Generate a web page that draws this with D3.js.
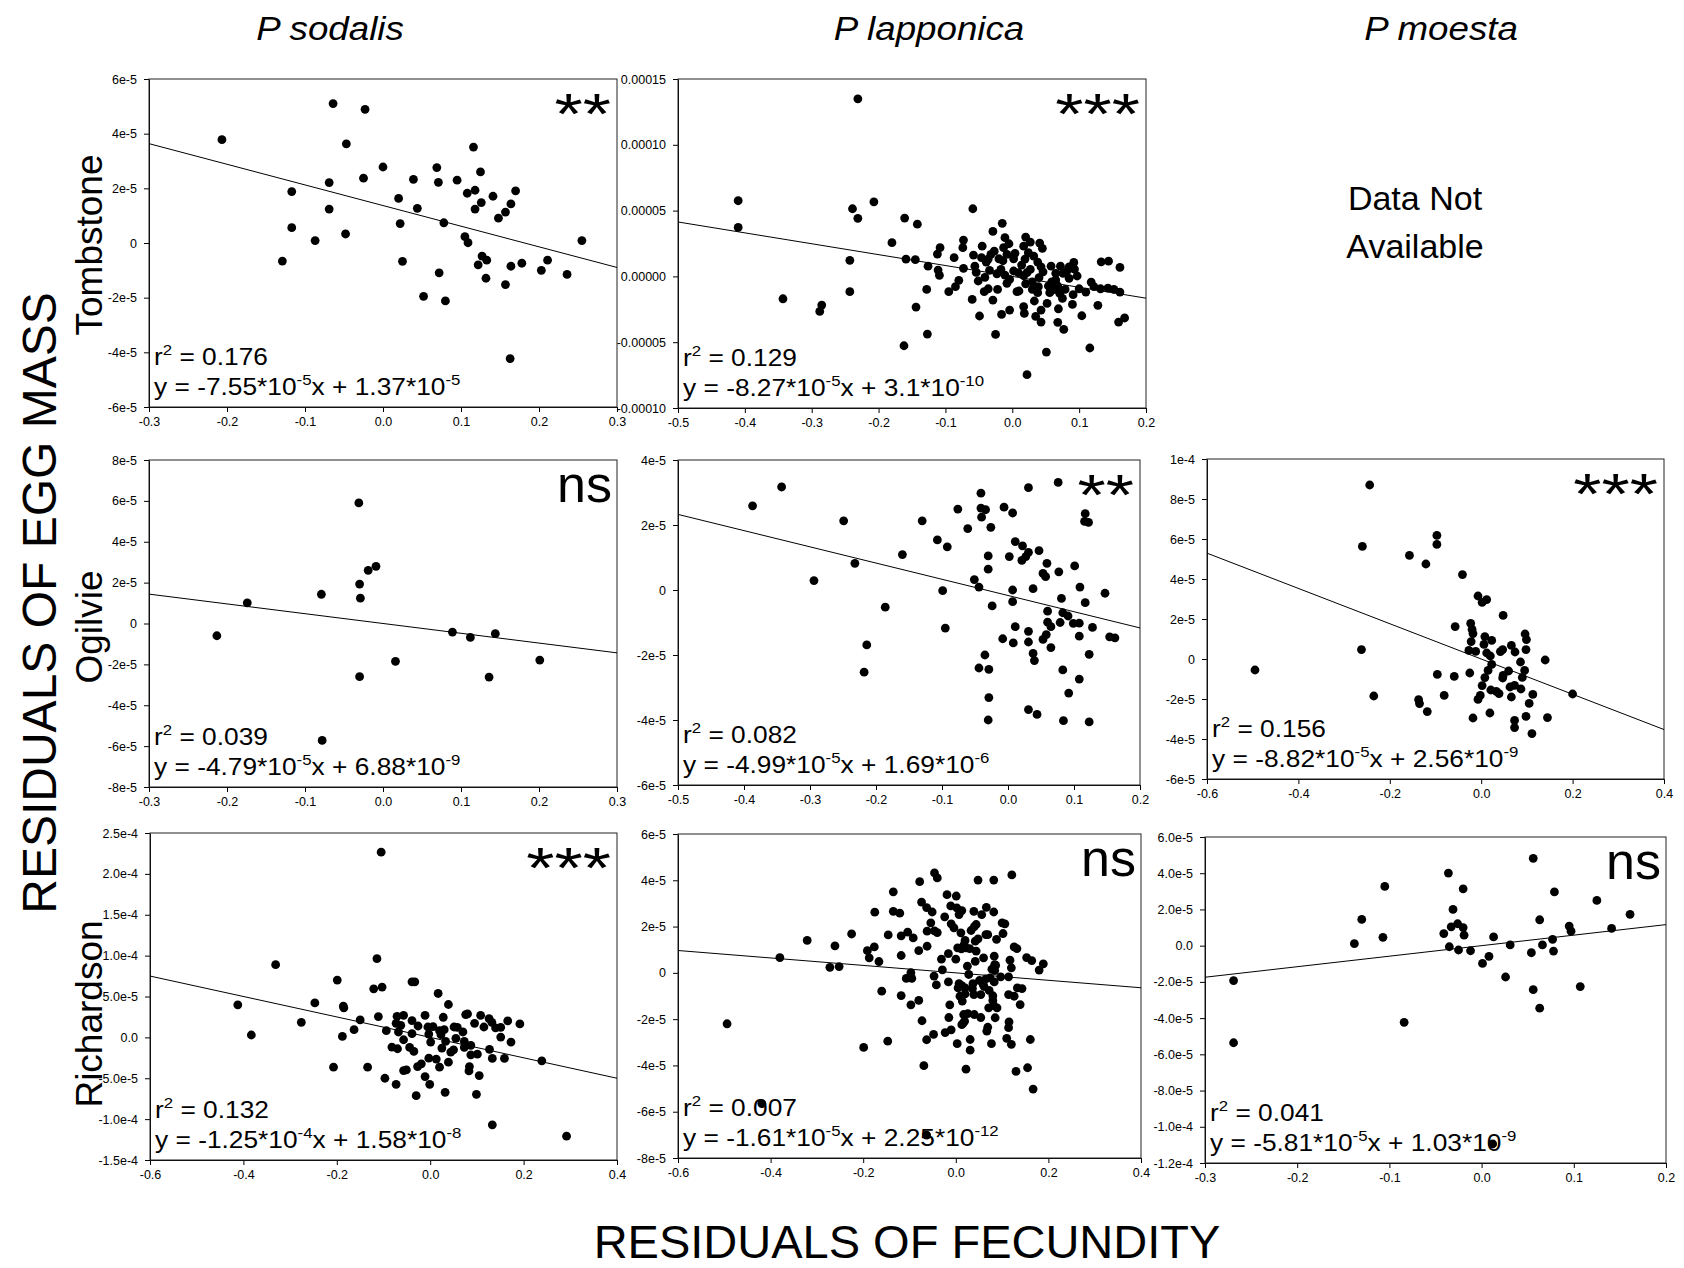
<!DOCTYPE html>
<html><head><meta charset="utf-8">
<script src="https://cdn.jsdelivr.net/npm/d3@7"></script>
<style>body{margin:0;background:#fff}</style>
</head><body>
<svg id="c" width="1684" height="1268"></svg>
<script>
// ---------------- DATA (y values in units of 1e-5) ----------------
const colTitles = ["P sodalis", "P lapponica", "P moesta"];
const rowTitles = ["Tombstone", "Ogilvie", "Richardson"];
const yAxisTitle = "RESIDUALS OF EGG MASS";
const xAxisTitle = "RESIDUALS OF FECUNDITY";
const naText = ["Data Not", "Available"];

// x tick values / labels
const xTicksA = [-0.3, -0.2, -0.1, 0, 0.1, 0.2, 0.3];
const xLabelsA = ["-0.3", "-0.2", "-0.1", "0.0", "0.1", "0.2", "0.3"];
const xTicksB = [-0.5, -0.4, -0.3, -0.2, -0.1, 0, 0.1, 0.2];
const xLabelsB = ["-0.5", "-0.4", "-0.3", "-0.2", "-0.1", "0.0", "0.1", "0.2"];
const xTicksC = [-0.6, -0.4, -0.2, 0, 0.2, 0.4];
const xLabelsC = ["-0.6", "-0.4", "-0.2", "0.0", "0.2", "0.4"];
const xTicksD = [-0.3, -0.2, -0.1, 0, 0.1, 0.2];
const xLabelsD = ["-0.3", "-0.2", "-0.1", "0.0", "0.1", "0.2"];

// y tick values / labels (values in 1e-5)
const yTicksTombSod = [-6, -4, -2, 0, 2, 4, 6];
const yLabelsTombSod = ["-6e-5", "-4e-5", "-2e-5", "0", "2e-5", "4e-5", "6e-5"];
const yTicksTombLap = [-10, -5, 0, 5, 10, 15];
const yLabelsTombLap = ["-0.00010", "-0.00005", "0.00000", "0.00005", "0.00010", "0.00015"];
const yTicksOgiSod = [-8, -6, -4, -2, 0, 2, 4, 6, 8];
const yLabelsOgiSod = ["-8e-5", "-6e-5", "-4e-5", "-2e-5", "0", "2e-5", "4e-5", "6e-5", "8e-5"];
const yTicksOgiLap = [-6, -4, -2, 0, 2, 4];
const yLabelsOgiLap = ["-6e-5", "-4e-5", "-2e-5", "0", "2e-5", "4e-5"];
const yTicksOgiMoe = [-6, -4, -2, 0, 2, 4, 6, 8, 10];
const yLabelsOgiMoe = ["-6e-5", "-4e-5", "-2e-5", "0", "2e-5", "4e-5", "6e-5", "8e-5", "1e-4"];
const yTicksRicSod = [-15, -10, -5, 0, 5, 10, 15, 20, 25];
const yLabelsRicSod = ["-1.5e-4", "-1.0e-4", "-5.0e-5", "0.0", "5.0e-5", "1.0e-4", "1.5e-4", "2.0e-4", "2.5e-4"];
const yTicksRicLap = [-8, -6, -4, -2, 0, 2, 4, 6];
const yLabelsRicLap = ["-8e-5", "-6e-5", "-4e-5", "-2e-5", "0", "2e-5", "4e-5", "6e-5"];
const yTicksRicMoe = [-12, -10, -8, -6, -4, -2, 0, 2, 4, 6];
const yLabelsRicMoe = ["-1.2e-4", "-1.0e-4", "-8.0e-5", "-6.0e-5", "-4.0e-5", "-2.0e-5", "0.0", "2.0e-5", "4.0e-5", "6.0e-5"];

// scatter points [x, y(1e-5)]
const ptsTombSod = [[-0.2065,3.78],[-0.064,5.10],[-0.023,4.89],[-0.047,3.63],[-0.117,1.88],[-0.069,2.21],[-0.025,2.37],[0.0,2.78],[-0.069,1.24],[-0.117,0.56],[-0.048,0.33],[-0.087,0.09],[-0.129,-0.66],[0.020,1.63],[0.039,2.33],[0.044,1.27],[0.022,0.71],[0.025,-0.67],[0.069,2.76],[0.071,2.22],[0.078,0.74],[0.095,2.30],[0.116,3.51],[0.125,2.60],[0.108,1.82],[0.118,1.93],[0.126,1.48],[0.118,1.24],[0.141,1.71],[0.170,1.91],[0.164,1.43],[0.157,1.13],[0.148,0.91],[0.105,0.23],[0.109,0.01],[0.127,-0.48],[0.133,-0.63],[0.122,-0.80],[0.132,-1.29],[0.072,-1.09],[0.052,-1.95],[0.080,-2.12],[0.157,-1.52],[0.164,-0.85],[0.178,-0.74],[0.203,-1.00],[0.211,-0.63],[0.236,-1.15],[0.255,0.09],[0.163,-4.23]];
const ptsTombLap = [[-0.231,13.49],[-0.410,5.75],[-0.410,3.72],[-0.239,5.14],[-0.231,4.41],[-0.207,5.67],[-0.343,-1.70],[-0.285,-2.18],[-0.288,-2.66],[-0.243,1.22],[-0.243,-1.16],[-0.180,2.56],[-0.161,4.43],[-0.142,3.97],[-0.159,1.32],[-0.145,1.27],[-0.126,0.78],[-0.128,-0.99],[-0.144,-2.33],[-0.127,-4.38],[-0.162,-5.27],[-0.112,1.70],[-0.108,2.18],[-0.111,0.48],[-0.109,0.08],[-0.095,-1.16],[-0.087,1.42],[-0.085,-0.78],[-0.080,-0.30],[-0.073,2.76],[-0.074,2.18],[-0.073,0.61],[-0.059,5.14],[-0.058,1.62],[-0.056,0.78],[-0.060,-1.75],[-0.054,0.30],[-0.051,-0.35],[-0.049,-3.01],[-0.045,2.30],[-0.046,1.42],[-0.041,-0.08],[-0.042,-1.16],[-0.036,1.32],[-0.036,-0.94],[-0.034,0.46],[-0.029,3.42],[-0.029,-1.80],[-0.027,1.92],[-0.023,0.20],[-0.025,-4.41],[-0.022,-0.99],[-0.015,4.03],[-0.016,-2.89],[-0.013,2.18],[-0.011,2.94],[-0.014,1.19],[-0.011,0.10],[-0.008,1.67],[-0.005,2.48],[-0.008,-0.53],[-0.004,-0.23],[-0.004,-2.56],[0.002,1.34],[0.004,1.75],[0.007,-1.16],[0.010,-1.11],[0.014,0.86],[0.017,2.30],[0.019,1.32],[0.020,2.99],[0.017,0.05],[0.020,-0.56],[0.017,-2.30],[0.018,-2.81],[0.022,-7.47],[0.024,1.80],[0.027,0.53],[0.027,2.61],[0.030,-0.41],[0.032,1.54],[0.033,-1.87],[0.035,-3.04],[0.038,1.09],[0.039,-0.78],[0.041,2.53],[0.043,0.73],[0.043,-2.56],[0.043,-3.47],[0.045,2.13],[0.046,0.35],[0.052,-2.05],[0.051,-5.75],[0.058,0.78],[0.059,-0.41],[0.062,-1.01],[0.065,0.23],[0.065,-0.28],[0.069,-2.46],[0.068,-3.49],[0.072,0.78],[0.071,-1.29],[0.075,-1.67],[0.077,-4.03],[0.076,0.23],[0.082,0.43],[0.085,-0.15],[0.090,-2.13],[0.091,-1.39],[0.092,1.06],[0.093,0.56],[0.100,-0.94],[0.104,-2.99],[0.110,-1.19],[0.116,-5.44],[0.118,-0.43],[0.122,-0.78],[0.128,-2.20],[0.133,1.11],[0.144,1.16],[0.132,-0.94],[0.143,-0.89],[0.152,-0.99],[0.161,-1.19],[0.161,0.68],[0.159,-3.47],[0.168,-3.16],[-0.039,1.09],[-0.020,1.34],[-0.017,0.53],[0.009,0.28],[0.030,-0.99],[0.038,-1.24],[0.054,-0.73],[0.056,-1.24],[0.079,-0.99],[0.097,0.03],[0.068,-0.73],[0.022,0.28],[0.040,-0.10],[0.002,0.41],[-0.032,1.67],[0.085,0.73]];
const ptsOgiSod = [[-0.213,-0.60],[-0.174,1.01],[-0.079,1.43],[-0.031,5.90],[-0.030,1.93],[-0.029,1.24],[-0.019,2.60],[-0.009,2.80],[-0.030,-2.60],[0.016,-1.85],[0.089,-0.42],[0.112,-0.68],[0.144,-0.50],[0.136,-2.62],[0.201,-1.79],[-0.078,-5.72]];
const ptsOgiLap = [[-0.387,2.59],[-0.343,3.17],[-0.294,0.29],[-0.249,2.13],[-0.232,0.82],[-0.214,-1.69],[-0.218,-2.53],[-0.186,-0.53],[-0.160,1.09],[-0.130,2.13],[-0.107,1.54],[-0.092,1.33],[-0.099,-0.02],[-0.095,-1.17],[-0.076,2.49],[-0.061,1.89],[-0.051,0.32],[-0.044,0.09],[-0.041,2.98],[-0.041,2.52],[-0.034,2.47],[-0.040,2.24],[-0.026,1.93],[-0.030,1.05],[-0.030,0.64],[-0.024,-0.49],[-0.035,-2.00],[-0.044,-2.40],[-0.029,-2.44],[-0.029,-3.31],[-0.030,-4.00],[-0.006,2.55],[0.007,2.37],[0.002,1.03],[-0.008,-1.50],[0.007,0.00],[0.007,-0.36],[0.008,-1.63],[0.011,1.49],[0.011,-1.13],[0.022,1.36],[0.021,0.91],[0.027,1.03],[0.031,1.16],[0.031,3.15],[0.031,-1.27],[0.031,-1.60],[0.038,0.04],[0.038,-1.95],[0.040,-2.17],[0.031,-3.68],[0.044,-3.83],[0.047,1.21],[0.053,0.51],[0.057,0.41],[0.059,0.82],[0.060,-0.65],[0.060,-0.99],[0.058,-1.37],[0.053,-1.52],[0.065,-1.13],[0.065,-1.77],[0.076,3.31],[0.077,0.56],[0.081,-0.26],[0.079,-1.00],[0.083,-0.70],[0.091,-0.80],[0.083,-2.46],[0.084,-4.02],[0.092,-3.17],[0.101,0.74],[0.099,-1.03],[0.108,-1.02],[0.109,0.09],[0.108,-1.42],[0.108,-2.74],[0.117,2.35],[0.116,2.11],[0.122,2.08],[0.117,-0.39],[0.123,-1.98],[0.123,-4.06],[0.128,-1.15],[0.147,-0.10],[0.154,-1.44],[0.162,-1.47]];
const ptsOgiMoe = [[-0.495,-0.55],[-0.244,8.70],[-0.260,5.63],[-0.262,0.47],[-0.235,-1.85],[-0.157,5.18],[-0.121,4.75],[-0.097,6.18],[-0.097,5.73],[-0.041,4.22],[-0.057,1.62],[-0.096,-0.77],[-0.059,-0.87],[-0.081,-1.82],[-0.137,-2.03],[-0.135,-2.23],[-0.118,-2.63],[-0.007,3.15],[0.002,2.83],[0.012,2.97],[0.048,2.18],[-0.023,1.78],[-0.020,1.48],[-0.018,1.27],[-0.022,0.87],[-0.027,0.43],[-0.012,0.38],[-0.025,-0.70],[0.008,1.12],[0.006,0.73],[0.023,0.93],[0.012,0.30],[0.020,0.15],[0.023,-0.27],[0.015,-0.57],[0.008,-0.93],[0.002,-1.33],[-0.002,-1.82],[-0.007,-2.02],[0.021,-1.55],[0.033,-1.62],[0.039,-1.73],[0.019,-2.70],[-0.018,-2.95],[0.042,0.37],[0.047,0.47],[0.048,-0.82],[0.047,-0.95],[0.060,-0.60],[0.066,0.68],[0.074,0.35],[0.086,-0.15],[0.063,-1.40],[0.073,-1.32],[0.087,-1.50],[0.066,-1.90],[0.095,-0.57],[0.090,-0.92],[0.096,1.25],[0.099,0.97],[0.098,0.47],[0.105,-2.22],[0.113,-1.77],[0.073,-3.07],[0.073,-3.43],[0.098,-2.87],[0.111,-3.73],[0.140,-0.05],[0.145,-2.93],[0.200,-1.75]];
const ptsRicSod = [[-0.105,22.66],[-0.412,3.98],[-0.383,0.29],[-0.331,8.89],[-0.276,1.84],[-0.247,4.22],[-0.199,7.01],[-0.207,-3.65],[-0.186,3.81],[-0.185,3.61],[-0.188,0.12],[-0.163,0.94],[-0.150,2.13],[-0.134,-3.65],[-0.114,9.63],[-0.121,5.94],[-0.103,6.15],[-0.111,2.54],[-0.094,0.82],[-0.097,-5.00],[-0.082,-1.19],[-0.073,-5.74],[-0.071,2.58],[-0.057,2.70],[-0.073,1.72],[-0.063,1.48],[-0.068,0.66],[-0.070,-1.39],[-0.057,-0.29],[-0.057,-4.06],[-0.051,-3.98],[-0.039,6.80],[-0.033,6.80],[-0.039,2.05],[-0.026,1.39],[-0.039,0.45],[-0.044,-1.23],[-0.035,-1.72],[-0.027,-3.57],[-0.030,-7.13],[-0.019,-3.24],[-0.011,2.70],[-0.005,1.27],[-0.003,0.41],[0.006,1.31],[0.001,-0.57],[-0.003,-2.54],[-0.011,-4.80],[-0.001,-5.74],[0.017,5.37],[0.020,0.82],[0.023,0.33],[0.025,-1.31],[0.013,-2.66],[0.028,2.46],[0.030,0.94],[0.033,-0.49],[0.020,-3.65],[0.032,-6.72],[0.039,4.02],[0.044,-1.80],[0.039,-3.03],[0.051,1.27],[0.055,-0.12],[0.058,1.23],[0.050,-1.52],[0.070,0.66],[0.073,-0.49],[0.073,-1.23],[0.076,2.79],[0.080,2.87],[0.087,-0.98],[0.087,-2.13],[0.084,-3.57],[0.083,-4.10],[0.095,1.72],[0.101,-2.05],[0.108,2.70],[0.115,1.27],[0.105,-4.67],[0.099,-6.97],[0.126,2.30],[0.132,1.84],[0.140,1.15],[0.151,0.04],[0.151,1.23],[0.127,-1.48],[0.133,-2.58],[0.159,-2.58],[0.166,2.01],[0.173,-0.57],[0.192,1.64],[0.239,-2.87],[0.133,-10.70],[0.292,-12.09]];
const ptsRicLap = [[-0.494,-2.20],[-0.380,0.66],[-0.321,1.40],[-0.272,0.24],[-0.252,0.27],[-0.261,1.17],[-0.225,1.68],[-0.191,0.96],[-0.187,0.65],[-0.176,1.12],[-0.166,0.49],[-0.175,2.62],[-0.199,-3.22],[-0.146,1.64],[-0.160,-0.79],[-0.147,-2.95],[-0.135,3.50],[-0.135,2.66],[-0.121,2.58],[-0.118,1.60],[-0.118,0.75],[-0.118,-0.98],[-0.104,1.76],[-0.092,1.51],[-0.097,0.01],[-0.107,-0.24],[-0.095,-0.24],[-0.097,-1.38],[-0.078,3.94],[-0.074,3.06],[-0.063,2.82],[-0.080,0.96],[-0.080,-1.19],[-0.062,1.15],[-0.073,-2.07],[-0.069,-4.01],[-0.051,2.63],[-0.054,2.16],[-0.062,1.80],[-0.046,1.81],[-0.040,1.74],[-0.046,4.32],[-0.040,4.10],[-0.047,-0.14],[-0.042,-0.52],[-0.063,-2.89],[-0.048,-2.66],[-0.031,0.59],[-0.029,0.13],[-0.024,2.42],[-0.019,3.38],[-0.011,2.89],[-0.016,0.83],[-0.010,2.12],[-0.004,1.94],[-0.016,-0.39],[-0.013,-1.38],[-0.015,-1.93],[-0.010,-2.46],[-0.023,-2.58],[0.001,3.32],[0.002,2.81],[0.013,2.69],[0.000,0.59],[0.004,1.08],[0.011,1.73],[0.007,-0.47],[0.013,-0.55],[0.009,-1.01],[0.014,-1.22],[0.018,1.22],[0.020,1.40],[0.012,1.04],[0.022,1.08],[0.016,-2.17],[0.013,-2.24],[0.003,-3.06],[0.020,-0.65],[0.020,-0.91],[0.017,-1.80],[0.025,0.29],[0.028,-0.07],[0.030,1.05],[0.026,-1.76],[0.031,-2.88],[0.031,-3.34],[0.022,-4.16],[0.039,2.66],[0.033,1.83],[0.040,2.00],[0.044,2.09],[0.037,-0.47],[0.036,-0.68],[0.039,-0.94],[0.040,-1.80],[0.042,1.37],[0.044,0.94],[0.042,0.50],[0.048,1.47],[0.048,4.01],[0.051,-0.33],[0.054,-0.94],[0.054,-1.93],[0.060,0.65],[0.056,2.52],[0.061,-0.59],[0.065,1.65],[0.066,2.83],[0.059,-0.50],[0.065,-0.26],[0.067,-2.52],[0.069,-2.35],[0.069,1.65],[0.072,-0.76],[0.071,-1.51],[0.074,-0.22],[0.078,0.16],[0.077,-3.06],[0.082,4.01],[0.082,2.63],[0.080,-0.99],[0.083,0.72],[0.080,-1.19],[0.084,0.10],[0.086,0.32],[0.088,1.45],[0.083,-0.39],[0.082,-1.42],[0.089,-1.51],[0.085,-1.94],[0.084,0.36],[0.102,1.70],[0.100,2.16],[0.106,2.12],[0.097,-0.17],[0.110,-2.83],[0.114,-0.17],[0.115,-2.12],[0.114,-2.37],[0.117,0.55],[0.120,0.22],[0.114,-0.94],[0.120,-3.09],[0.121,4.23],[0.126,1.12],[0.132,1.05],[0.126,-1.01],[0.133,-0.65],[0.143,-0.68],[0.139,-1.37],[0.130,-4.26],[0.153,0.66],[0.164,0.53],[0.161,-2.88],[0.155,-4.10],[0.180,0.12],[0.189,0.39],[0.167,-5.02],[-0.419,-5.65],[-0.063,-7.01],[0.007,2.52],[0.005,-0.65],[0.019,-2.09]];
const ptsRicMoe = [[-0.269,-1.93],[-0.269,-5.36],[-0.138,0.11],[-0.130,1.45],[-0.107,0.46],[-0.105,3.27],[-0.084,-4.23],[-0.041,0.67],[-0.036,4.01],[-0.035,-0.06],[-0.031,2.00],[-0.033,1.04],[-0.026,1.21],[-0.020,1.00],[-0.019,0.58],[-0.025,-0.24],[-0.020,3.14],[-0.012,-0.28],[0.001,-0.98],[0.008,-0.59],[0.013,0.48],[0.026,-1.73],[0.031,0.04],[0.054,-0.39],[0.056,4.82],[0.056,-2.43],[0.063,-3.45],[0.063,1.43],[0.066,0.04],[0.077,0.35],[0.078,-0.30],[0.079,2.97],[0.095,1.08],[0.097,0.80],[0.107,-2.26],[0.125,2.50],[0.141,0.95],[0.161,1.73],[0.012,-10.95]];

// fitted lines as drawn (slope, intercept in 1e-5 units) and printed statistics
const fitSlopes     = [-7.55, -8.27, -4.79, -4.99, -8.82, -12.5, -1.61, 5.81];
const fitIntercepts = [1.37, 0.000031, 0.000688, -0.169, 0.000256, 0.00158, 0.0, 0.0001];
const r2Labels  = ["0.176", "0.129", "0.039", "0.082", "0.156", "0.132", "0.007", "0.041"];
const eqSlopeLabels = [["-7.55","-5"],["-8.27","-5"],["-4.79","-5"],["-4.99","-5"],["-8.82","-5"],["-1.25","-4"],["-1.61","-5"],["-5.81","-5"]];
const eqIntLabels   = [["1.37","-5"],["3.1","-10"],["6.88","-9"],["1.69","-6"],["2.56","-9"],["1.58","-8"],["2.25","-12"],["1.03","-9"]];
const sigLabels = ["**", "***", "ns", "**", "***", "***", "ns", "ns"];

// ---------------- LAYOUT ----------------
const FONT = '"Liberation Sans", Arial, Helvetica, sans-serif';
const panelRects = [ // [left, top, right, bottom]
  [149, 79, 617, 407], [678, 79, 1146, 408],
  [149, 460, 617, 787], [678, 460, 1140, 785], [1207, 459, 1664, 779],
  [150, 833, 617, 1160], [678, 834, 1141, 1158], [1205, 837, 1666, 1163]
];
const panelPts = [ptsTombSod, ptsTombLap, ptsOgiSod, ptsOgiLap, ptsOgiMoe, ptsRicSod, ptsRicLap, ptsRicMoe];
const panelXT = [[xTicksA,xLabelsA],[xTicksB,xLabelsB],[xTicksA,xLabelsA],[xTicksB,xLabelsB],[xTicksC,xLabelsC],[xTicksC,xLabelsC],[xTicksC,xLabelsC],[xTicksD,xLabelsD]];
const panelYT = [[yTicksTombSod,yLabelsTombSod],[yTicksTombLap,yLabelsTombLap],[yTicksOgiSod,yLabelsOgiSod],[yTicksOgiLap,yLabelsOgiLap],[yTicksOgiMoe,yLabelsOgiMoe],[yTicksRicSod,yLabelsRicSod],[yTicksRicLap,yLabelsRicLap],[yTicksRicMoe,yLabelsRicMoe]];

const svg = d3.select("#c").attr("font-family", FONT);
svg.append("rect").attr("width", 1684).attr("height", 1268).attr("fill", "#fff");

function richText(g, x, y, parts, size, sx) {
  const t = g.append("text")
    .attr("transform", `translate(${x},${y}) scale(${sx},1)`)
    .attr("font-size", size).attr("fill", "#000");
  let raised = false;
  parts.forEach(p => {
    const ts = t.append("tspan").text(p.t);
    if (p.sup) {
      ts.attr("font-size", size * 0.64);
      if (!raised) { ts.attr("dy", -10); raised = true; }
    } else if (raised) { ts.attr("dy", 10); raised = false; }
  });
  return t;
}

panelRects.forEach((r, i) => {
  const [L, T, R, B] = r;
  const [xt, xl] = panelXT[i];
  const [yt, yl] = panelYT[i];
  const x = d3.scaleLinear().domain([xt[0], xt[xt.length - 1]]).range([L, R]);
  const y = d3.scaleLinear().domain([yt[0], yt[yt.length - 1]]).range([B, T]);
  const g = svg.append("g");

  // axes
  const ax = g.append("g").attr("transform", `translate(0,${B})`)
    .call(d3.axisBottom(x).tickValues(xt).tickFormat((d, k) => xl[k]).tickSize(5).tickPadding(5).tickSizeOuter(0));
  const ay = g.append("g").attr("transform", `translate(${L},0)`)
    .call(d3.axisLeft(y).tickValues(yt).tickFormat((d, k) => yl[k]).tickSize(5).tickPadding(7).tickSizeOuter(0));
  [ax, ay].forEach(a => {
    a.selectAll("text").attr("font-size", 12.5).attr("font-family", FONT).attr("fill", "#000");
    a.selectAll("line").attr("stroke", "#000");
    a.select(".domain").attr("stroke", "#000");
  });

  // frame
  g.append("rect").attr("x", L).attr("y", T).attr("width", R - L).attr("height", B - T)
    .attr("fill", "none").attr("stroke", "#222").attr("stroke-width", 1);

  // annotations
  richText(g, L + 5, B - 42, [{t: "r"}, {t: "2", sup: true}, {t: " = " + r2Labels[i]}], 23.5, 1.12);
  richText(g, L + 5, B - 12, [
    {t: "y = " + eqSlopeLabels[i][0] + "*10"}, {t: eqSlopeLabels[i][1], sup: true},
    {t: "x + " + eqIntLabels[i][0] + "*10"}, {t: eqIntLabels[i][1], sup: true}], 23.5, 1.12);

  // significance
  const s = sigLabels[i];
  if (s === "ns") {
    g.append("text").attr("x", R - 5).attr("y", T + 42).attr("text-anchor", "end")
      .attr("font-size", 52).text(s);
  } else {
    g.append("text").attr("transform", `translate(${R - 6},${T + 55}) scale(1.25,1)`)
      .attr("text-anchor", "end").attr("font-size", 58).text(s);
  }

  // points
  g.append("g").selectAll("circle").data(panelPts[i]).join("circle")
    .attr("cx", d => x(d[0])).attr("cy", d => y(d[1])).attr("r", 4.4).attr("fill", "#000");

  // regression line
  const x0 = xt[0], x1 = xt[xt.length - 1];
  const line = d3.line().x(d => x(d[0])).y(d => y(d[1]));
  g.append("path").attr("d", line([[x0, fitSlopes[i] * x0 + fitIntercepts[i]], [x1, fitSlopes[i] * x1 + fitIntercepts[i]]]))
    .attr("stroke", "#000").attr("stroke-width", 1).attr("fill", "none");
});

// column titles
const titleX = [330, 929, 1441];
colTitles.forEach((t, i) => {
  svg.append("text").attr("transform", `translate(${titleX[i]},40) scale(1.08,1)`)
    .attr("text-anchor", "middle").attr("font-size", 34).attr("font-style", "italic").text(t);
});
// row titles
const rowY = [245, 627, 1014];
rowTitles.forEach((t, i) => {
  svg.append("text").attr("transform", `translate(102,${rowY[i]}) rotate(-90)`)
    .attr("text-anchor", "middle").attr("font-size", 37).text(t);
});
// axis titles
svg.append("text").attr("transform", "translate(56,603) rotate(-90)")
  .attr("text-anchor", "middle").attr("font-size", 48).text(yAxisTitle);
svg.append("text").attr("x", 907).attr("y", 1258)
  .attr("text-anchor", "middle").attr("font-size", 47).text(xAxisTitle);
// not available
naText.forEach((t, i) => {
  svg.append("text").attr("x", 1415).attr("y", 210 + i * 48)
    .attr("text-anchor", "middle").attr("font-size", 34).text(t);
});
</script>
</body></html>
